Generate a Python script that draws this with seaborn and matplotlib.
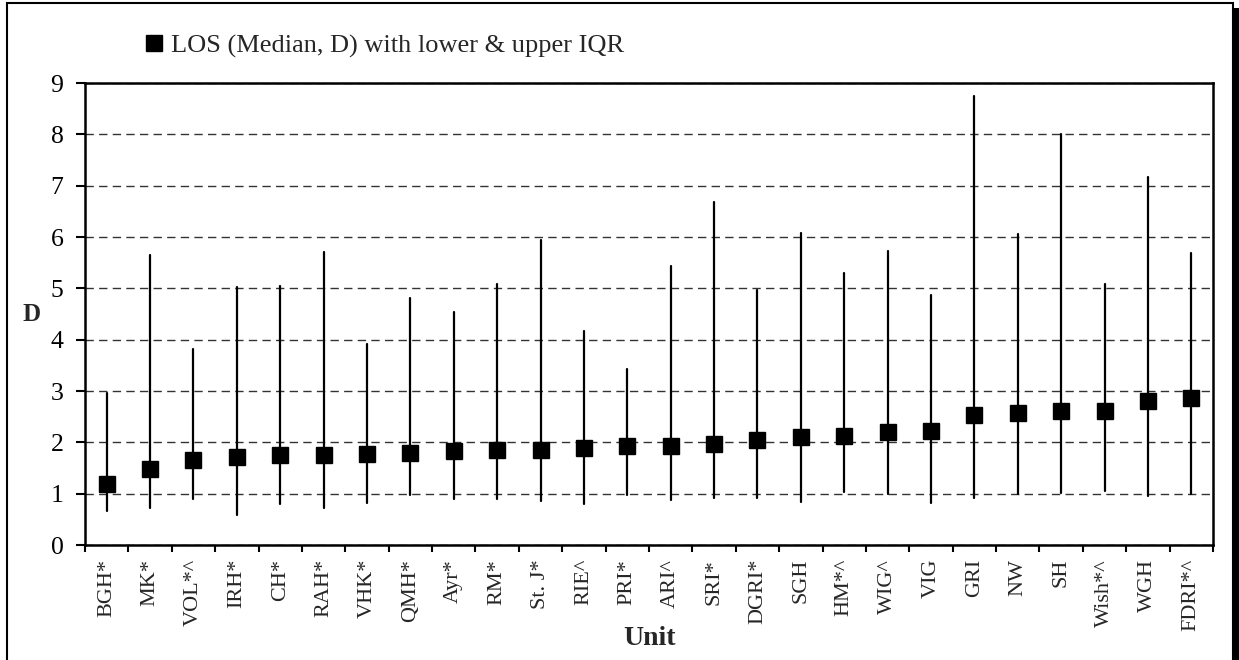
import numpy as np
import pandas as pd
import matplotlib
matplotlib.use("Agg")
import matplotlib.pyplot as plt
from matplotlib.lines import Line2D
from matplotlib.patches import Rectangle
import seaborn as sns

# Length of stay per unit: median with lower and upper IQR bounds (days)
units = ["BGH*", "MK*", "VOL*^", "IRH*", "CH*", "RAH*", "VHK*", "QMH*", "Ayr*",
         "RM*", "St. J*", "RIE^", "PRI*", "ARI^", "SRI*", "DGRI*", "SGH", "HM*^",
         "WIG^", "VIG", "GRI", "NW", "SH", "Wish*^", "WGH", "FDRI*^"]
median = [1.18, 1.48, 1.66, 1.72, 1.76, 1.76, 1.78, 1.80, 1.84, 1.86, 1.86, 1.89,
          1.93, 1.93, 1.97, 2.05, 2.11, 2.13, 2.20, 2.23, 2.54, 2.58, 2.61, 2.61,
          2.81, 2.87]
lower_iqr = [0.67, 0.72, 0.90, 0.59, 0.79, 0.72, 0.81, 0.98, 0.90, 0.90, 0.85, 0.79,
             0.98, 0.88, 0.92, 0.92, 0.83, 1.04, 0.99, 0.81, 0.92, 0.99, 1.02, 1.06,
             0.96, 0.99]
upper_iqr = [2.97, 5.64, 3.82, 5.03, 5.05, 5.70, 3.92, 4.82, 4.53, 5.08, 5.94, 4.17,
             3.42, 5.43, 6.68, 4.96, 6.07, 5.30, 5.73, 4.87, 8.75, 6.06, 8.01, 5.09,
             7.16, 5.69]
y_ticks = list(range(0, 10))
legend_label = "LOS (Median, D) with lower & upper IQR"

# Long form: each unit carries its lower bound, median and upper bound
long = pd.DataFrame({
    "unit": np.repeat(units, 3),
    "value": np.column_stack([lower_iqr, median, upper_iqr]).ravel(),
})

sns.set_theme(style="white")
plt.rcParams["font.family"] = ["Liberation Serif", "DejaVu Serif"]

W, H = 1239, 660
fig = plt.figure(figsize=(W / 100, H / 100), dpi=100)
ax = fig.add_axes([85 / W, 1 - 545 / H, (1213 - 85) / W, (545 - 83) / H])

sns.pointplot(
    data=long, x="unit", y="value", order=units,
    estimator="median", errorbar=lambda v: (v.min(), v.max()),
    color="black", marker="s", markersize=11, markeredgewidth=1,
    linestyle="none", err_kws={"linewidth": 1.6}, ax=ax,
)

ax.set_ylim(0, 9)
ax.set_xlim(-0.5, len(units) - 0.5)
ax.set_yticks(y_ticks)
ax.set_yticklabels([str(t) for t in y_ticks])

# Category labels between boundary tick marks
ax.set_xticks(np.arange(-0.5, len(units), 1.0))
ax.set_xticklabels([])
ax.set_xticks(np.arange(len(units)), labels=units, minor=True)
ax.tick_params(axis="x", which="major", direction="out", length=5, width=1.5,
               bottom=True, colors="black")
ax.tick_params(axis="x", which="minor", length=0, rotation=90, labelsize=16,
               pad=10, bottom=True)
ax.tick_params(axis="y", direction="out", length=6.5, width=1.5, labelsize=18.5,
               pad=9, left=True, colors="black")

ax.yaxis.grid(True, color="#333333", linewidth=1.0, linestyle=(0, (6, 3.8)))
ax.xaxis.grid(False)
ax.set_axisbelow(True)

for side in ["left", "bottom", "top", "right"]:
    ax.spines[side].set_visible(True)
    ax.spines[side].set_color("black")
    ax.spines[side].set_linewidth(1.8)

ax.set_ylabel("D", rotation=0, fontsize=18, fontweight="bold", ha="center",
              va="center")
ax.yaxis.set_label_coords((32 - 85) / (1213 - 85), 0.5)
ax.set_xlabel("Unit", fontsize=20, fontweight="bold", va="top")
ax.xaxis.set_label_coords(0.5, (545 - 626) / (545 - 83))

handle = Line2D([], [], marker="s", color="black", linestyle="none", markersize=12)
fig.legend(handles=[handle], labels=[legend_label], loc="center left",
           bbox_to_anchor=(141 / W, 1 - 46 / H), frameon=False, fontsize=19,
           handletextpad=0.15, handlelength=1.0, borderpad=0, borderaxespad=0)

# Chart frame with a drop shadow on the right edge
fig.patches.append(Rectangle((7 / W, -0.1), (1233 - 7) / W, 1.1 - 3 / H,
                             transform=fig.transFigure, fill=False,
                             edgecolor="black", linewidth=1.5))
fig.patches.append(Rectangle((1233 / W, -0.1), 6 / W, 1.1 - 8 / H,
                             transform=fig.transFigure, facecolor="black",
                             edgecolor="none"))

fig.savefig("out.png", dpi=100)
